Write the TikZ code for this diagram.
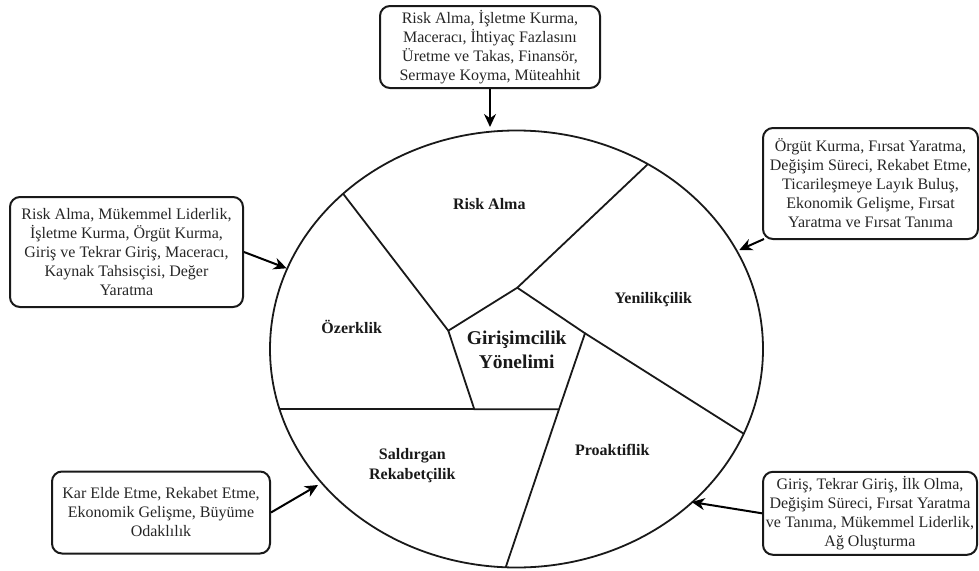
\documentclass[tikz,border=0pt]{standalone}
\usepackage{fontspec}
\setmainfont{Liberation Serif}
\newfontfamily\tnr{Liberation Serif}
\usetikzlibrary{arrows.meta,calc}

\begin{document}
\begin{tikzpicture}[x=1pt,y=-1pt,
  box/.style={draw=black!90, line width=2pt, rounded corners=10pt, align=center,
    inner sep=0pt, font=\tnr\fontsize{16}{19}\selectfont, text=black!85},
  lbl/.style={font=\tnr\bfseries\fontsize{16}{20}\selectfont, align=center, text=black!90},
  core/.style={font=\tnr\bfseries\fontsize{19.5}{23.5}\selectfont, align=center, text=black!90},
  seg/.style={line width=1.8pt, draw=black!90},
  arr/.style={line width=2pt, draw=black, -{Stealth[length=13pt,width=12pt]}}]
\useasboundingbox (0,0) rectangle (979,570);

% main ellipse
\draw[seg] (516.5,349) ellipse [x radius=246.5pt, y radius=218.5pt];

% pentagon vertices
\coordinate (v1) at (517.3,287.7);
\coordinate (v2) at (448.3,330.7);
\coordinate (v3) at (585,333.3);
\coordinate (v4) at (474.3,409.3);
\coordinate (v5) at (559,409.3);
% ellipse points
\coordinate (e1) at (647.9,164.1);
\coordinate (e2) at (343.1,193.7);
\coordinate (e3) at (743.7,433.7);
\coordinate (e4) at (279.6,409.3);
\coordinate (e5) at (505.7,567.3);

\draw[seg, line join=miter] (v1) -- (v2) -- (v4) -- (v5) -- (v3) -- cycle;
\draw[seg] (v1) -- (e1);
\draw[seg] (v2) -- (e2);
\draw[seg] (v3) -- (e3);
\draw[seg] (e4) -- (v4);
\draw[seg] (v5) -- (e5);

% labels
\node[lbl] (risk) at (489.3,204.3) {Risk Alma};
\node[lbl] (yen) at (653.3,300) {Yenilikçilik};
\node[lbl] (oz) at (351.7,327.3) {Özerklik};
\node[core] (gy) at (516.7,350) {Girişimcilik\\Yönelimi};
\node[lbl] (sr) at (412.3,466) {Saldırgan\\Rekabetçilik};
\node[lbl] (pro) at (612.3,450) {Proaktiflik};

% boxes
\node[box, minimum width=220pt, minimum height=82pt] (tb) at (490,47)
  {Risk Alma, İşletme Kurma,\\ Maceracı, İhtiyaç Fazlasını\\ Üretme ve Takas, Finansör,\\ Sermaye Koyma, Müteahhit};
\node[box, minimum width=215pt, minimum height=111pt] (rb) at (870.5,183.5)
  {Örgüt Kurma, Fırsat Yaratma,\\ Değişim Süreci, Rekabet Etme,\\ Ticarileşmeye Layık Buluş,\\ Ekonomik Gelişme, Fırsat\\ Yaratma ve Fırsat Tanıma};
\node[box, minimum width=233pt, minimum height=110pt] (lb) at (126.5,252)
  {Risk Alma, Mükemmel Liderlik,\\ İşletme Kurma, Örgüt Kurma,\\ Giriş ve Tekrar Giriş, Maceracı,\\ Kaynak Tahsisçisi, Değer\\ Yaratma};
\node[box, minimum width=218pt, minimum height=82pt] (blb) at (161,512.5)
  {Kar Elde Etme, Rekabet Etme,\\ Ekonomik Gelişme, Büyüme\\ Odaklılık};
\node[box, minimum width=214pt, minimum height=83pt] (brb) at (870,513.3)
  {Giriş, Tekrar Giriş, İlk Olma,\\ Değişim Süreci, Fırsat Yaratma\\ ve Tanıma, Mükemmel Liderlik,\\ Ağ Oluşturma};

% arrow targets
\coordinate (tT) at (490,127);
\coordinate (tL) at (286.7,268.3);
\coordinate (tR) at (739.3,250);
\coordinate (tBL) at (318,485);
\coordinate (tBR) at (691.7,502);

\draw[arr] (tb.south) -- (tT);
\draw[arr] (lb.east) -- (tL);
\draw[arr] ([shift={(2,-1)}]rb.south west) -- (tR);
\draw[arr] (blb.east) -- (tBL);
\draw[arr] (brb.west) -- (tBR);
\end{tikzpicture}
\end{document}
